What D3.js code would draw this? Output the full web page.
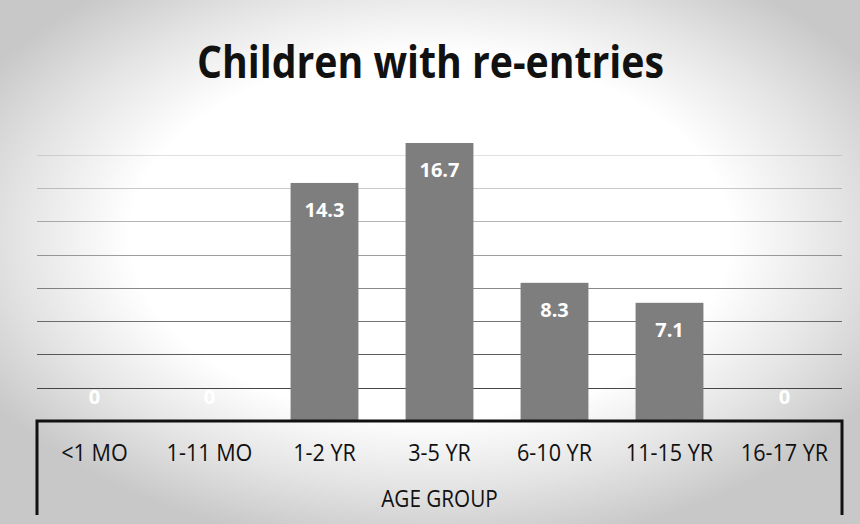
<!DOCTYPE html>
<html>
<head>
<meta charset="utf-8">
<script src="https://cdn.jsdelivr.net/npm/d3@7"></script>
<style>
  html, body { margin: 0; padding: 0; background: #fff; }
  svg { display: block; }
</style>
</head>
<body>
<svg id="chart" width="860" height="524"></svg>
<script>
// Share of children with re-entries, by age group
const categories = ["<1 MO", "1-11 MO", "1-2 YR", "3-5 YR", "6-10 YR", "11-15 YR", "16-17 YR"];
const values = [0, 0, 14.3, 16.7, 8.3, 7.1, 0];
const gridValues = [2, 4, 6, 8, 10, 12, 14, 16];
const titleText = "Children with re-entries";
const axisTitle = "AGE GROUP";

const W = 860, H = 524;
const svg = d3.select("#chart");
const defs = svg.append("defs");

// soft grey vignette behind the chart
const bg = defs.append("radialGradient").attr("id", "vignette")
  .attr("cx", "50%").attr("cy", "45%").attr("r", "60%");
bg.append("stop").attr("offset", "0%").attr("stop-color", "#ffffff");
bg.append("stop").attr("offset", "58%").attr("stop-color", "#ffffff");
bg.append("stop").attr("offset", "80%").attr("stop-color", "#e4e4e4");
bg.append("stop").attr("offset", "100%").attr("stop-color", "#c8c8c8");
svg.append("rect").attr("width", W).attr("height", H).attr("fill", "url(#vignette)");

const left = 37, right = 842, base = 421;
const condense = 0.9;

const x = d3.scaleBand().domain(categories).range([left, right])
  .paddingInner(0.41).paddingOuter(0.205);
const y = d3.scaleLinear().domain([0, 16.7]).range([base, 143]);

// horizontal gridlines, fading toward the top
const gridOpacity = d3.scaleLinear().domain([2, 16]).range([0.9, 0.15]);
svg.append("g").selectAll("line").data(gridValues).join("line")
  .attr("x1", left).attr("x2", right)
  .attr("y1", d => Math.round(y(d)) + 0.5).attr("y2", d => Math.round(y(d)) + 0.5)
  .attr("stroke", "#333").attr("stroke-width", 1.2)
  .attr("stroke-opacity", d => gridOpacity(d));

// bars
svg.append("g").selectAll("rect").data(values).join("rect")
  .attr("x", (d, i) => x(categories[i]))
  .attr("width", x.bandwidth())
  .attr("y", d => y(d))
  .attr("height", d => base - y(d))
  .attr("fill", "#7e7e7e");

// value labels inside bar tops
svg.append("g").selectAll("text").data(values).join("text")
  .attr("x", (d, i) => x(categories[i]) + x.bandwidth() / 2)
  .attr("y", d => Math.min(y(d) + 34, base - 17))
  .attr("text-anchor", "middle")
  .attr("font-family", "'Open Sans', sans-serif")
  .attr("font-weight", "bold")
  .attr("font-size", 20)
  .attr("fill", "#ffffff")
  .text(d => d);

// axis frame: heavy baseline with side drops
svg.append("path")
  .attr("d", `M${left},515 V${base} H${right} V515`)
  .attr("fill", "none").attr("stroke", "#111").attr("stroke-width", 3);

// category axis labels, horizontally condensed about each tick
const xAxis = d3.axisBottom(x).tickSize(0).tickPadding(0);
const ax = svg.append("g").attr("transform", `translate(0,${base})`).call(xAxis);
ax.select(".domain").remove();
ax.selectAll(".tick text")
  .attr("y", 40)
  .attr("dy", 0)
  .attr("font-family", "'Open Sans', sans-serif")
  .attr("font-size", 24)
  .attr("fill", "#111")
  .attr("transform", `scale(${condense},1)`);

const axisTitleX = (left + right) / 2;
svg.append("text")
  .attr("x", 0).attr("y", 0)
  .attr("text-anchor", "middle")
  .attr("font-family", "'Open Sans', sans-serif")
  .attr("font-size", 23)
  .attr("fill", "#111")
  .attr("transform", `translate(${axisTitleX},507) scale(${condense},1)`)
  .text(axisTitle);

// chart title
svg.append("text")
  .attr("x", 430.5).attr("y", 78)
  .attr("text-anchor", "middle")
  .attr("font-family", "'Open Sans', sans-serif")
  .attr("font-weight", "bold")
  .attr("font-size", 44)
  .attr("fill", "#111")
  .attr("textLength", 467)
  .attr("lengthAdjust", "spacingAndGlyphs")
  .text(titleText);
</script>
</body>
</html>
